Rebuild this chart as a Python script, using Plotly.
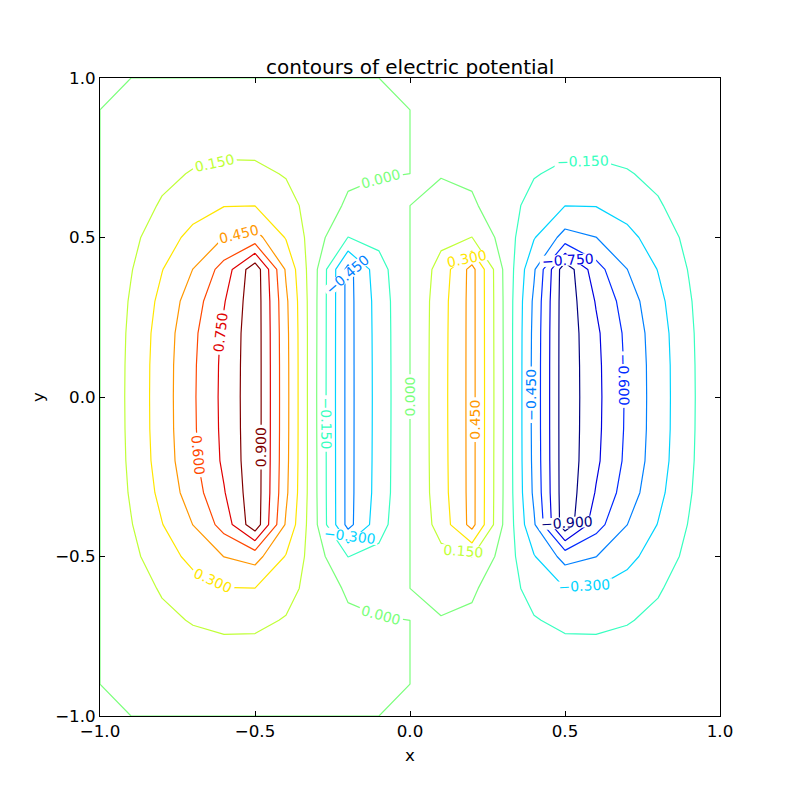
import plotly.graph_objects as go

# grid coordinates
x_vals = [-1.0, -0.9, -0.8, -0.7, -0.6, -0.5, -0.4, -0.3, -0.2, -0.1, 0.0,
          0.1, 0.2, 0.3, 0.4, 0.5, 0.6, 0.7, 0.8, 0.9, 1.0]
y_vals = [-1.0, -0.9, -0.8, -0.7, -0.6, -0.5, -0.4, -0.3, -0.2, -0.1, 0.0,
          0.1, 0.2, 0.3, 0.4, 0.5, 0.6, 0.7, 0.8, 0.9, 1.0]

# potential values, one row per y (bottom to top)
row_m10 = [0]*21
row_m09 = [0, 0.02, 0.036, 0.046, 0.05, 0.05, 0.041, 0.03, 0.017, 0.007, 0, -0.007, -0.017, -0.03, -0.041, -0.05, -0.05, -0.046, -0.036, -0.02, 0]
row_m08 = [0, 0.039, 0.075, 0.095, 0.102, 0.102, 0.085, 0.058, 0.032, 0.013, 0, -0.013, -0.032, -0.058, -0.085, -0.102, -0.102, -0.095, -0.075, -0.039, 0]
row_m07 = [0, 0.06, 0.118, 0.16, 0.188, 0.184, 0.14, 0.08, 0.025, 0.005, 0, -0.005, -0.025, -0.08, -0.14, -0.184, -0.188, -0.16, -0.118, -0.06, 0]
row_m06 = [0, 0.083, 0.164, 0.24, 0.295, 0.298, 0.202, 0.08, -0.02, -0.03, 0, 0.03, 0.02, -0.08, -0.202, -0.298, -0.295, -0.24, -0.164, -0.083, 0]
row_m05 = [0, 0.113, 0.231, 0.343, 0.452, 0.505, 0.29, 0.055, -0.152, -0.105, 0, 0.105, 0.152, -0.055, -0.29, -0.505, -0.452, -0.343, -0.231, -0.113, 0]
row_m04 = [0, 0.142, 0.295, 0.452, 0.66, 1.0, 0.43, 0.005, -0.5, -0.212, 0, 0.212, 0.5, -0.005, -0.43, -1.0, -0.66, -0.452, -0.295, -0.142, 0]
row_m03 = [0, 0.166, 0.34, 0.528, 0.74, 1.0, 0.478, -0.001, -0.5, -0.238, 0, 0.238, 0.5, 0.001, -0.478, -1.0, -0.74, -0.528, -0.34, -0.166, 0]
row_m02 = [0, 0.18, 0.366, 0.566, 0.778, 1.0, 0.49, -0.002, -0.5, -0.242, 0, 0.242, 0.5, 0.002, -0.49, -1.0, -0.778, -0.566, -0.366, -0.18, 0]
row_m01 = [0, 0.186, 0.374, 0.577, 0.787, 1.0, 0.494, -0.004, -0.5, -0.244, 0, 0.244, 0.5, 0.004, -0.494, -1.0, -0.787, -0.577, -0.374, -0.186, 0]
row_000 = [0, 0.188, 0.375, 0.58, 0.79, 1.0, 0.495, -0.005, -0.5, -0.245, 0, 0.245, 0.5, 0.005, -0.495, -1.0, -0.79, -0.58, -0.375, -0.188, 0]
row_p01 = [0, 0.186, 0.374, 0.577, 0.787, 1.0, 0.494, -0.004, -0.5, -0.244, 0, 0.244, 0.5, 0.004, -0.494, -1.0, -0.787, -0.577, -0.374, -0.186, 0]
row_p02 = [0, 0.18, 0.366, 0.566, 0.778, 1.0, 0.49, -0.002, -0.5, -0.242, 0, 0.242, 0.5, 0.002, -0.49, -1.0, -0.778, -0.566, -0.366, -0.18, 0]
row_p03 = [0, 0.166, 0.34, 0.528, 0.74, 1.0, 0.478, -0.001, -0.5, -0.238, 0, 0.238, 0.5, 0.001, -0.478, -1.0, -0.74, -0.528, -0.34, -0.166, 0]
row_p04 = [0, 0.142, 0.295, 0.452, 0.66, 1.0, 0.43, 0.005, -0.5, -0.212, 0, 0.212, 0.5, -0.005, -0.43, -1.0, -0.66, -0.452, -0.295, -0.142, 0]
row_p05 = [0, 0.113, 0.231, 0.343, 0.452, 0.505, 0.29, 0.055, -0.152, -0.105, 0, 0.105, 0.152, -0.055, -0.29, -0.505, -0.452, -0.343, -0.231, -0.113, 0]
row_p06 = [0, 0.083, 0.164, 0.24, 0.295, 0.298, 0.202, 0.08, -0.02, -0.03, 0, 0.03, 0.02, -0.08, -0.202, -0.298, -0.295, -0.24, -0.164, -0.083, 0]
row_p07 = [0, 0.06, 0.118, 0.16, 0.188, 0.184, 0.14, 0.08, 0.025, 0.005, 0, -0.005, -0.025, -0.08, -0.14, -0.184, -0.188, -0.16, -0.118, -0.06, 0]
row_p08 = [0, 0.039, 0.075, 0.095, 0.102, 0.102, 0.085, 0.058, 0.032, 0.013, 0, -0.013, -0.032, -0.058, -0.085, -0.102, -0.102, -0.095, -0.075, -0.039, 0]
row_p09 = [0, 0.02, 0.036, 0.046, 0.05, 0.05, 0.041, 0.03, 0.017, 0.007, 0, -0.007, -0.017, -0.03, -0.041, -0.05, -0.05, -0.046, -0.036, -0.02, 0]
row_p10 = [0]*21

z_vals = [row_m10, row_m09, row_m08, row_m07, row_m06, row_m05, row_m04, row_m03,
          row_m02, row_m01, row_000, row_p01, row_p02, row_p03, row_p04, row_p05,
          row_p06, row_p07, row_p08, row_p09, row_p10]

tick_vals = [-1.0, -0.5, 0.0, 0.5, 1.0]
tick_text = ["\u22121.0", "\u22120.5", "0.0", "0.5", "1.0"]

# matplotlib 'jet' colours at the 13 contour levels (-0.9 ... 0.9)
jet_colors = ["rgb(0,0,128)", "rgb(0,0,224)", "rgb(0,42,255)", "rgb(0,128,255)",
              "rgb(0,212,255)", "rgb(55,255,192)", "rgb(123,255,123)",
              "rgb(192,255,55)", "rgb(255,230,0)", "rgb(255,151,0)",
              "rgb(255,72,0)", "rgb(224,0,0)", "rgb(128,0,0)"]
colorscale = [[i / 12, c] for i, c in enumerate(jet_colors)]

FONT = "DejaVu Sans"

fig = go.Figure()
fig.add_trace(go.Contour(
    x=x_vals, y=y_vals, z=z_vals,
    zauto=False, zmin=-0.9, zmax=0.9,
    colorscale=colorscale, showscale=False,
    contours=dict(coloring="lines", start=-0.9, end=0.9001, size=0.15,
                  showlabels=True, labelformat=".3f",
                  labelfont=dict(family=FONT, size=14)),
    line=dict(width=1.2, smoothing=0),
    hoverinfo="skip",
))

axis_common = dict(
    range=[-1, 1], showgrid=False, zeroline=False, automargin=False,
    showline=True, linecolor="black", linewidth=1, mirror="ticks",
    ticks="inside", ticklen=5, tickcolor="black", tickwidth=1,
    tickvals=tick_vals, ticktext=tick_text,
    tickfont=dict(family=FONT, size=16.7, color="black"),
)
fig.update_xaxes(**axis_common)
fig.update_yaxes(**axis_common)

# the page body adds an 8 px offset, so the figure is 8 px smaller and margins shifted
fig.update_layout(
    width=792, height=788,
    margin=dict(l=92, r=80, t=70, b=80, autoexpand=False),
    paper_bgcolor="white", plot_bgcolor="white",
    showlegend=False,
    font=dict(family=FONT, color="black"),
    annotations=[
        dict(text="contours of electric potential", x=0.5, y=1, xref="paper", yref="paper",
             xanchor="center", yanchor="middle", yshift=11, showarrow=False,
             font=dict(family=FONT, size=20, color="black")),
        dict(text="x", x=0.5, y=-0.061, xref="paper", yref="paper",
             xanchor="center", yanchor="middle", showarrow=False,
             font=dict(family=FONT, size=16.7, color="black")),
        dict(text="y", x=-0.1, y=0.5, xref="paper", yref="paper", textangle=-90,
             xanchor="center", yanchor="middle", showarrow=False,
             font=dict(family=FONT, size=16.7, color="black")),
    ],
)

fig.write_html("out.html")
